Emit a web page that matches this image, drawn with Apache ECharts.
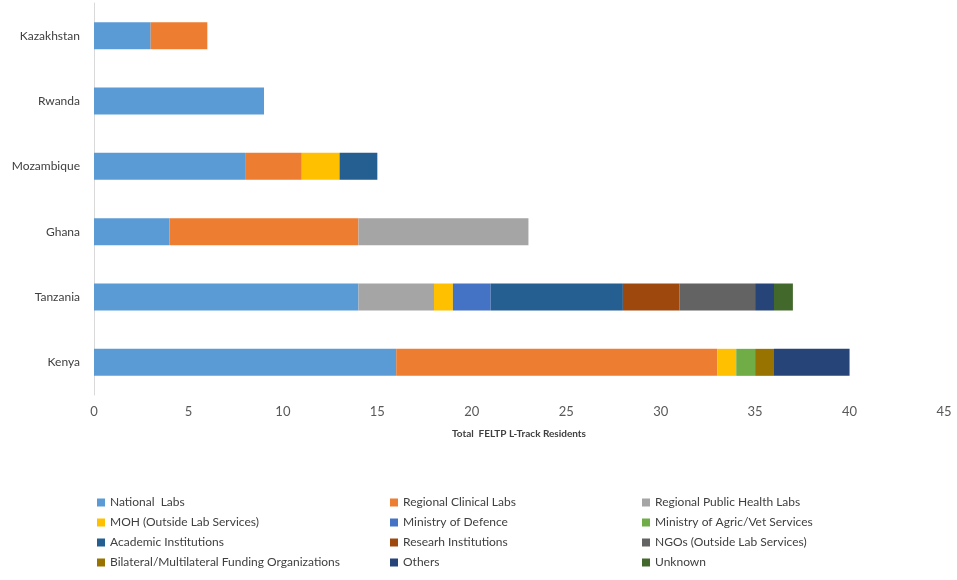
<!DOCTYPE html>
<html><head><meta charset="utf-8">
<script src="https://cdn.jsdelivr.net/npm/echarts@6/dist/echarts.min.js"></script>
<style>html,body{margin:0;padding:0;background:#fff}#c{width:957px;height:580px}</style>
</head><body><div id="c"></div>
<script>
const countries = ['Kazakhstan','Rwanda','Mozambique','Ghana','Tanzania','Kenya'];
const seriesNames = ['National  Labs','Regional Clinical Labs','Regional Public Health Labs','MOH (Outside Lab Services)','Ministry of Defence','Ministry of Agric/Vet Services','Academic Institutions','Researh Institutions','NGOs (Outside Lab Services)','Bilateral/Multilateral Funding Organizations','Others','Unknown'];
const nationalLabs      = [3, 9, 8, 4, 14, 16];
const regionalClinical  = [3, 0, 3, 10, 0, 17];
const regionalPublic    = [0, 0, 0, 9, 4, 0];
const moh               = [0, 0, 2, 0, 1, 1];
const defence           = [0, 0, 0, 0, 2, 0];
const agric             = [0, 0, 0, 0, 0, 1];
const academic          = [0, 0, 2, 0, 7, 0];
const research          = [0, 0, 0, 0, 3, 0];
const ngos              = [0, 0, 0, 0, 4, 0];
const bilateral         = [0, 0, 0, 0, 0, 1];
const others            = [0, 0, 0, 0, 1, 4];
const unknown           = [0, 0, 0, 0, 1, 0];
const xTicks = [0,5,10,15,20,25,30,35,40,45];
const colors = ['#5B9BD5','#ED7D31','#A5A5A5','#FFC000','#4472C4','#70AD47','#255E91','#9E480E','#636363','#997300','#264478','#43682B'];
const values = [nationalLabs, regionalClinical, regionalPublic, moh, defence, agric, academic, research, ngos, bilateral, others, unknown];

const font = 'Lato, "Liberation Sans", sans-serif';
const chart = echarts.init(document.getElementById('c'), null, {renderer:'canvas'});
const legendCommon = {
  orient: 'vertical', top: 491, itemWidth: 8, itemHeight: 8, itemGap: 7,
  icon: 'rect', textStyle: {fontFamily: font, fontSize: 12, color: '#404040', lineHeight: 13}
};
chart.setOption({
  animation: false,
  color: colors,
  grid: {left: 94, right: 13, top: 3, bottom: 185},
  legend: [
    Object.assign({left: 92, data: [seriesNames[0], seriesNames[3], seriesNames[6], seriesNames[9]]}, legendCommon),
    Object.assign({left: 385, data: [seriesNames[1], seriesNames[4], seriesNames[7], seriesNames[10]]}, legendCommon),
    Object.assign({left: 637, data: [seriesNames[2], seriesNames[5], seriesNames[8], seriesNames[11]]}, legendCommon)
  ],
  xAxis: {
    type: 'value', min: 0, max: 45, interval: 5,
    name: 'Total  FELTP L-Track Residents', nameLocation: 'middle', nameGap: 34,
    nameTextStyle: {fontFamily: font, fontSize: 10, fontWeight: 'bold', color: '#404040'},
    axisLine: {show: false}, axisTick: {show: false}, splitLine: {show: false},
    axisLabel: {fontFamily: font, fontSize: 13, color: '#595959', margin: 10,
      formatter: v => xTicks.includes(v) ? String(v) : ''}
  },
  yAxis: {
    type: 'category', data: countries, inverse: true,
    axisLine: {show: true, lineStyle: {color: '#D9D9D9', width: 1}},
    axisTick: {show: false},
    axisLabel: {fontFamily: font, fontSize: 12, color: '#404040', margin: 14}
  },
  series: seriesNames.map((n, i) => ({
    name: n, type: 'bar', stack: 'total', barWidth: 27,
    data: values[i].map(v => v === 0 ? null : v),
    itemStyle: {color: colors[i]}
  }))
});
</script></body></html>
